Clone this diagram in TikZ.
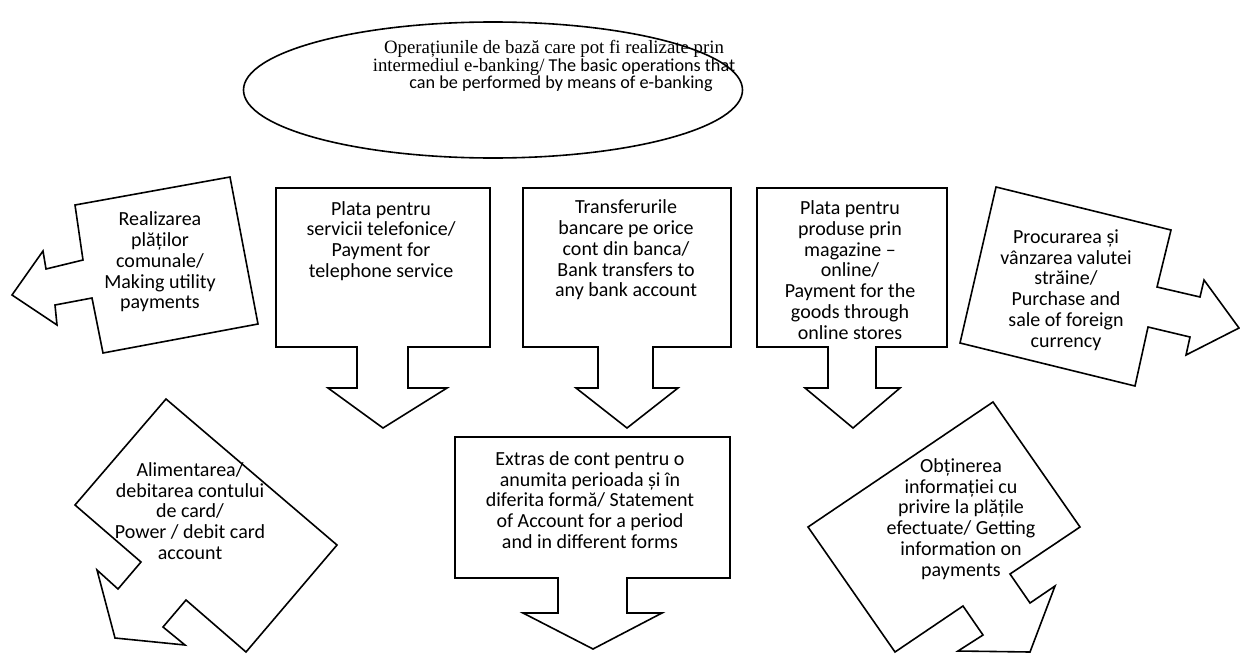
\documentclass[tikz,border=0pt]{standalone}
\usepackage{fontspec}
\setmainfont{Carlito}
\newfontfamily\timesfont{Liberation Serif}
\usetikzlibrary{shapes,positioning}
\tikzstyle{callout}=[draw,line width=0.8pt,line join=miter]
\tikzstyle{oval}=[draw,ellipse,line width=0.8pt,minimum width=249.5pt,minimum height=68pt,inner sep=0pt]
\tikzstyle{calltext}=[align=center,inner sep=0pt,font=\fontsize{10}{10.4}\selectfont]
\tikzstyle{titletext}=[align=center,inner sep=0pt,font=\fontsize{9.1}{8.9}\selectfont]

\begin{document}
\begin{tikzpicture}[x=0.5pt,y=-0.5pt]

  \useasboundingbox (0,0) rectangle (1240,653);
  \clip (0,0) rectangle (1240,653);

  % title oval
  \node[oval] (oval) at (493,90) {};
  \node[titletext] (title) at (554,66) {{\timesfont\fontsize{9.4}{8.9}\selectfont Operațiunile de bază care pot fi realizate prin}\\{\timesfont\fontsize{9.4}{8.9}\selectfont intermediul e-banking/} The basic operations that\hspace*{8pt}\\\hspace*{7pt}can be performed by means of e-banking};

  % down arrows, first row
  \foreach \l/\r/\sl/\sr/\hl/\hr/\tx in {276/490/357/408/328/447/383, 523/731/598/653/576/678/627, 757/947/828/876/805/900/853}
         \draw[callout] (\l,188) -- (\r,188) -- (\r,347) -- (\sr,347) -- (\sr,388) -- (\hr,388) -- (\tx,428) -- (\hl,388) -- (\sl,388) -- (\sl,347) -- (\l,347) -- cycle;

  % statement box
  \draw[callout] (455,437) -- (730,437) -- (730,578) -- (627,578) -- (627,613) -- (662,613) -- (593,649) -- (523,613) -- (558,613) -- (558,578) -- (455,578) -- cycle;

  % left arrow
  \draw[callout] (75,205) -- (230,177) -- (258,324) -- (103,353) -- (92,298) -- (55,305) -- (57,325) -- (12,295) -- (43,251) -- (46,269) -- (83,260) -- cycle;

  % right arrow
  \draw[callout] (996,187) -- (1171,230) -- (1157,287) -- (1200,297) -- (1204,280) -- (1239,328) -- (1186,355) -- (1190,337) -- (1148,327) -- (1135,386) -- (960,343) -- cycle;

  % tilted ones at the bottom
  \draw[callout] (166,399) -- (337,545) -- (246,652) -- (186,600) -- (163,627) -- (185,645) -- (115,638) -- (97,570) -- (118,589) -- (141,562) -- (75,505) -- cycle;
  \draw[callout] (993,402) -- (1080,527) -- (1010,574) -- (1030,603) -- (1055,586) -- (1030,652) -- (958,651) -- (983,635) -- (963,606) -- (895,652) -- (808,527) -- cycle;

  \foreach \x/\y/\name/\txt in {160/262/util/{Realizarea\\plăților\\comunale/\\Making utility\\payments},
                                381/241/phone/{Plata pentru\\servicii telefonice/\\Payment for\\telephone service},
                                626/250/transfer/{Transferurile\\bancare pe orice\\cont din banca/\\Bank transfers to\\any bank account},
                                850/270/shop/{Plata pentru\\produse prin\\magazine –\\online/\\Payment for the\\goods through\\online stores},
                                1066/290/currency/{Procurarea și\\vânzarea valutei\\străine/\\Purchase and\\sale of foreign\\currency},
                                190/511/card/{Alimentarea/\\debitarea contului\\de card/\\Power / debit card\\account},
                                590/500/statement/{Extras de cont pentru o\\anumita perioada și în\\diferita formă/ Statement\\of Account for a period\\and in different forms},
                                961/519/info/{Obținerea\\informației cu\\privire la plățile\\efectuate/ Getting\\information on\\payments}}
         \node[calltext] (\name) at (\x,\y) {\txt};

\end{tikzpicture}
\end{document}
